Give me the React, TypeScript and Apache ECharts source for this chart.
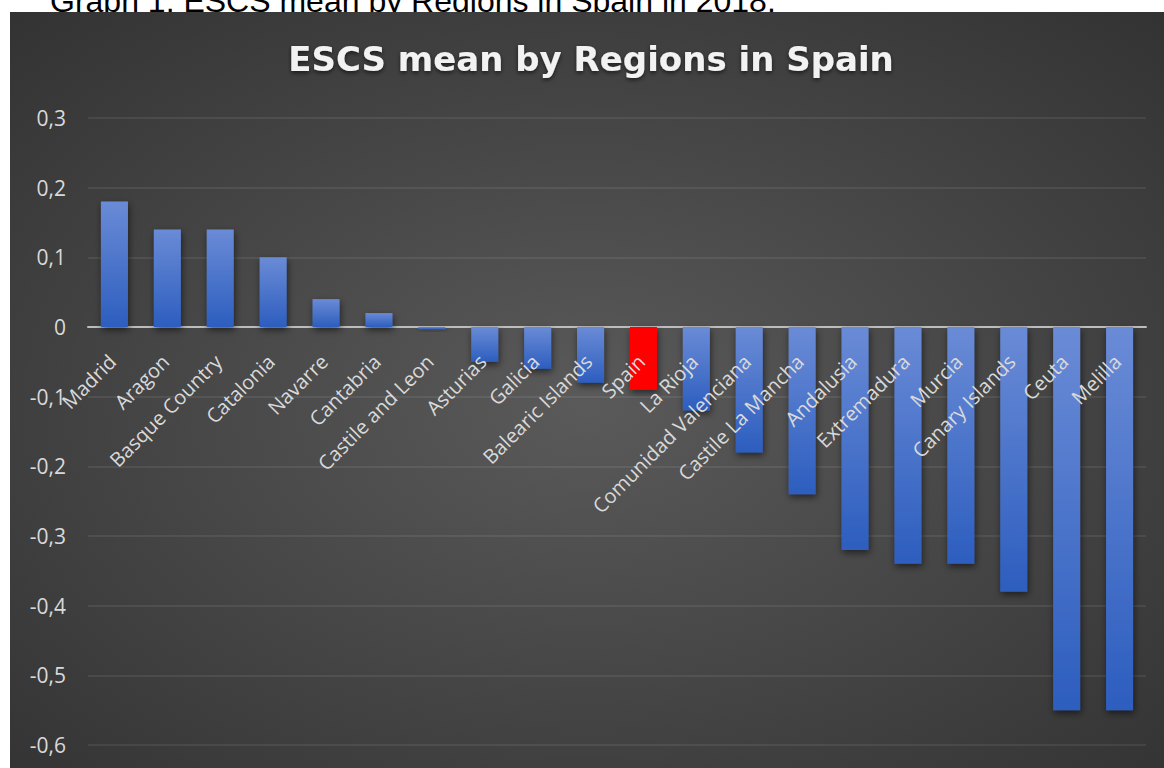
import React, { useEffect, useRef } from "react";
import * as echarts from "echarts";

const categories = [
  "Madrid", "Aragon", "Basque Country", "Catalonia", "Navarre", "Cantabria",
  "Castile and Leon", "Asturias", "Galicia", "Balearic Islands", "Spain",
  "La Rioja", "Comunidad Valenciana", "Castile La Mancha", "Andalusia",
  "Extremadura", "Murcia", "Canary Islands", "Ceuta", "Melilla",
];
const escsMean = [
  0.18, 0.14, 0.14, 0.10, 0.04, 0.02, -0.003, -0.05, -0.06, -0.08, -0.09,
  -0.12, -0.18, -0.24, -0.32, -0.34, -0.34, -0.38, -0.55, -0.55,
];
const highlighted = "Spain";
const yMin = -0.6;
const yMax = 0.3;
const yStep = 0.1;

const titleText = "ESCS mean by Regions in Spain";
const captionText = "Graph 1: ESCS mean by Regions in Spain in 2018.";

export default function App() {
  const ref = useRef<HTMLDivElement>(null);
  useEffect(() => {
    if (!ref.current) return;
    const chart = echarts.init(ref.current, null, { renderer: "svg" });
    const blueGrad = new echarts.graphic.LinearGradient(0, 0, 0, 1, [
      { offset: 0, color: "#6a8bd6" },
      { offset: 1, color: "#2d5ebf" },
    ]);
    chart.setOption({
      animation: false,
      backgroundColor: "#ffffff",
      graphic: [
        {
          type: "text",
          z: -20,
          x: 50,
          y: 17,
          style: {
            text: captionText,
            fill: "#000000",
            font: "32px 'Liberation Sans', Arial, sans-serif",
            textAlign: "left",
            textVerticalAlign: "bottom",
          },
        },
        {
          type: "rect",
          z: -10,
          shape: { x: 10, y: 12, width: 1154, height: 756 },
          style: {
            fill: {
              type: "radial",
              x: 0.5,
              y: 0.52,
              r: 0.95,
              colorStops: [
                { offset: 0, color: "#5a5a5a" },
                { offset: 1, color: "#262626" },
              ],
            },
          },
        },
        {
          type: "text",
          x: 591,
          y: 59,
          style: {
            text: titleText,
            fill: "#f2f2f2",
            font: "bold 34px 'DejaVu Sans', sans-serif",
            textAlign: "center",
            textVerticalAlign: "middle",
            textShadowColor: "rgba(0,0,0,0.6)",
            textShadowBlur: 4,
            textShadowOffsetY: 2,
          },
        },
      ],
      grid: [
        { left: 88, right: 18, top: 118, bottom: 23, containLabel: false, outerBoundsMode: "none" },
        { left: 86, right: 20, top: 118, height: 209, containLabel: false, outerBoundsMode: "none" },
      ],
      xAxis: [
        {
          type: "category",
          gridIndex: 0,
          data: categories,
          axisLine: { onZero: true, lineStyle: { color: "#bdbdbd", width: 2 } },
          axisTick: { show: false },
          axisLabel: { show: false },
        },
        {
          type: "category",
          gridIndex: 1,
          z: 10,
          data: categories,
          axisLine: { show: false },
          axisTick: { show: false },
          splitLine: { show: false },
          axisLabel: {
            interval: 0,
            rotate: 45,
            margin: 31,
            color: "#d9d9d9",
            fontFamily: "'Open Sans', sans-serif",
            fontSize: 20,
          },
        },
      ],
      yAxis: [
        {
          type: "value",
          gridIndex: 0,
          min: yMin,
          max: yMax,
          interval: yStep,
          axisLine: { show: false },
          axisTick: { show: false },
          splitLine: { lineStyle: { color: "rgba(255,255,255,0.10)", width: 1.5 } },
          axisLabel: {
            margin: 22,
            color: "#d9d9d9",
            fontFamily: "'Open Sans', sans-serif",
            fontSize: 21,
            formatter: (v: number) => {
              const r = Math.round(v * 10) / 10;
              return r === 0 ? "0" : r.toFixed(1).replace(".", ",");
            },
          },
        },
        {
          type: "value",
          gridIndex: 1,
          show: false,
          min: 0,
          max: 1,
        },
      ],
      series: [
        {
          type: "bar",
          xAxisIndex: 0,
          yAxisIndex: 0,
          barWidth: 27,
          data: escsMean.map((v, i) => ({
            value: v,
            itemStyle: {
              color: categories[i] === highlighted ? "#ff0000" : blueGrad,
            },
          })),
          itemStyle: {
            shadowColor: "rgba(0,0,0,0.55)",
            shadowBlur: 7,
            shadowOffsetY: 3,
            shadowOffsetX: 1,
          },
        },
      ],
    });
    return () => chart.dispose();
  }, []);
  return (
    <div style={{ position: "fixed", left: 0, top: 0, width: 1164, height: 768, background: "#fff" }}>
      <div ref={ref} style={{ width: 1164, height: 768 }} />
    </div>
  );
}
